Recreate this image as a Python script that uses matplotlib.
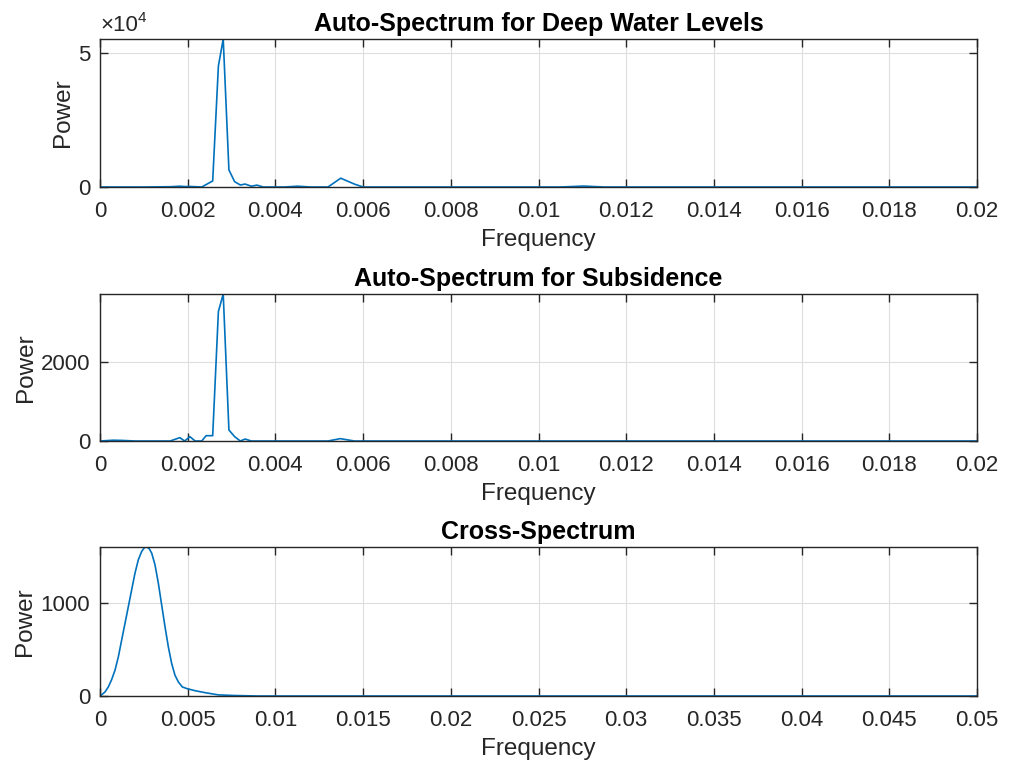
import numpy as np
import matplotlib
matplotlib.use('Agg')
import matplotlib.pyplot as plt
from matplotlib.ticker import FuncFormatter

plt.rcParams['font.family'] = ['Liberation Sans', 'DejaVu Sans']

# Auto-spectrum, deep water levels (frequency, power)
f_water = [0.0, 0.0010, 0.00160, 0.00182, 0.00195, 0.00205, 0.00232, 0.00257,
           0.00270, 0.00281, 0.00294, 0.00307, 0.00320, 0.00331, 0.00345,
           0.00358, 0.00372, 0.0042, 0.00451, 0.0048, 0.00520, 0.00549,
           0.00580, 0.0060, 0.0105, 0.01103, 0.0115, 0.02]
p_water = [0, 0, 100, 300, 150, 200, 0, 2260,
           45300, 55400, 6400, 2000, 750, 1100, 300,
           700, 0, 0, 300, 0, 0, 3300,
           1100, 0, 0, 350, 0, 0]

# Auto-spectrum, subsidence
f_sub = [0.0, 0.0003, 0.0005, 0.0008, 0.00160, 0.00182, 0.00193, 0.00205,
         0.00217, 0.00232, 0.00242, 0.00257, 0.00270, 0.00281, 0.00294,
         0.00307, 0.00320, 0.00331, 0.00345, 0.0052, 0.00548, 0.0058, 0.02]
p_sub = [0, 20, 15, 0, 0, 85, 0, 110,
         0, 0, 135, 135, 3290, 3735, 280,
         110, 0, 50, 0, 0, 60, 0, 0]

# Cross-spectrum
f_cross = [0.0, 0.00006, 0.000285, 0.000475, 0.000665, 0.000855, 0.001045,
           0.001235, 0.001425, 0.001615, 0.001805, 0.001995, 0.002185,
           0.002375, 0.002527, 0.00266, 0.002794, 0.002946, 0.003136,
           0.003326, 0.003516, 0.003706, 0.003896, 0.004086, 0.004276,
           0.004466, 0.004694, 0.004941, 0.005416, 0.005986, 0.006746,
           0.0077, 0.009, 0.05]
p_cross = [0, 8, 43, 97, 176, 276, 419,
           599, 778, 957, 1137, 1316, 1459,
           1548, 1588, 1596, 1581, 1531, 1405,
           1208, 975, 742, 527, 348, 222,
           151, 97, 80, 57, 36, 12,
           5, 0, 0]

line_col = '#0072BD'
ax_col = '#262626'

fig = plt.figure(figsize=(10.13, 7.64), dpi=100)
W, H = 1013, 764


def make_ax(left, top, right, bottom):
    return fig.add_axes([left / W, 1 - bottom / H, (right - left) / W, (bottom - top) / H])


def style(ax, title, xmax, xstep, ymax, yticks, ylabels):
    ax.set_xlim(0, xmax)
    ax.set_ylim(0, ymax)
    ax.set_xticks(np.round(np.arange(0, xmax + xstep / 2, xstep), 4))
    ax.xaxis.set_major_formatter(FuncFormatter(lambda v, p: '%g' % v))
    ax.set_yticks(yticks)
    ax.set_yticklabels(ylabels)
    ax.grid(True, color='#dedede', linewidth=0.8)
    ax.set_axisbelow(True)
    ax.tick_params(axis='x', pad=10)
    ax.tick_params(axis='y', pad=7)
    ax.tick_params(direction='in', top=True, right=True, length=6, width=1,
                   labelsize=16, colors=ax_col, labelcolor=ax_col)
    for s in ax.spines.values():
        s.set_color(ax_col)
        s.set_linewidth(1)
    ax.set_title(title, fontsize=18, fontweight='bold', pad=6)
    ax.set_xlabel('Frequency', fontsize=17.5, color=ax_col, labelpad=5)
    ax.set_ylabel('Power', fontsize=17.5, color=ax_col, labelpad=3)


ax1 = make_ax(100, 39, 977, 187)
ax1.plot(f_water, p_water, color=line_col, linewidth=1.2)
style(ax1, 'Auto-Spectrum for Deep Water Levels', 0.02, 0.002, max(p_water),
      [0, 50000], ['0', '5'])
mult = ax1.text(0, 1.02, '\u00d710', transform=ax1.transAxes,
                fontsize=16, color=ax_col, ha='left', va='bottom')
ax1.annotate('4', xy=(1, 0.85), xycoords=mult, fontsize=11, color=ax_col,
             ha='left', va='center')

ax2 = make_ax(100, 294, 977, 441)
ax2.plot(f_sub, p_sub, color=line_col, linewidth=1.2)
style(ax2, 'Auto-Spectrum for Subsidence', 0.02, 0.002, max(p_sub),
      [0, 2000], ['0', '2000'])

ax3 = make_ax(100, 547, 977, 696)
ax3.plot(f_cross, p_cross, color=line_col, linewidth=1.2)
style(ax3, 'Cross-Spectrum', 0.05, 0.005, max(p_cross),
      [0, 1000], ['0', '1000'])

fig.savefig('out.png', dpi=100)
